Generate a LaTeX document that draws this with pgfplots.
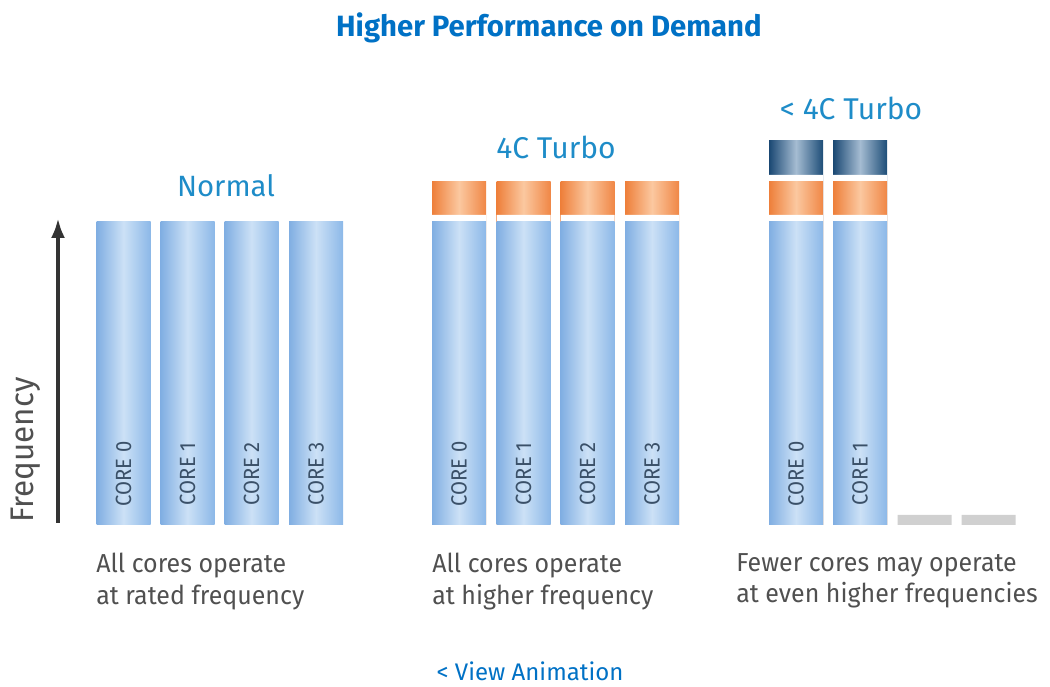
\documentclass[border=0pt]{standalone}
\usepackage{pgfplots}
\pgfplotsset{compat=1.18}
\usetikzlibrary{arrows.meta}
\usepackage{fontspec}
\setmainfont{Fira Sans}
\newfontfamily\bodyfont[FakeStretch=0.96]{Fira Sans}
\newfontfamily\corefont[FakeStretch=0.92]{Fira Sans}
\definecolor{titleblue}{RGB}{0,113,197}
\definecolor{labblue}{RGB}{30,140,200}
\definecolor{barL}{RGB}{128,174,226}
\definecolor{barM}{RGB}{204,225,246}
\definecolor{barR}{RGB}{140,184,232}
\definecolor{orL}{RGB}{238,127,58}
\definecolor{orM}{RGB}{251,200,160}
\definecolor{orR}{RGB}{240,135,70}
\definecolor{dkL}{RGB}{26,72,115}
\definecolor{dkM}{RGB}{165,188,210}
\definecolor{dkR}{RGB}{30,78,120}
\definecolor{grayb}{RGB}{208,208,208}
\definecolor{txtgray}{RGB}{80,80,80}
\definecolor{coretxt}{RGB}{58,80,104}
\pgfplotsset{
  bb/.style={ybar, bar width=54, bar shift=0pt, draw=none},
  blueb/.style={bb, left color=barL, right color=barR, middle color=barM},
  orb/.style={bb, left color=orL, right color=orR, middle color=orM},
  dkb/.style={bb, left color=dkL, right color=dkR, middle color=dkM},
}
\tikzset{corelab/.style={font=\corefont\fontsize{16.5}{18}\selectfont, text=coretxt, rotate=90}}
\begin{document}
\begin{tikzpicture}
\begin{axis}[
  x=0.75pt, y=0.75pt,
  xmin=0, xmax=1050, ymin=-161, ymax=525,
  hide axis, clip=false,
]
% turbo level 2 (dark), drawn first, gaps in white over it
\addplot[dkb] coordinates {(796,384)};
\addplot[dkb] coordinates {(860,384)};
\addplot[bb, fill=white] coordinates {(796,350) (860,350)};
% turbo level 1 (orange)
\addplot[orb] coordinates {(459,343)};
\addplot[orb] coordinates {(523.5,343)};
\addplot[orb] coordinates {(587.5,343)};
\addplot[orb] coordinates {(652,343)};
\addplot[orb] coordinates {(796,343)};
\addplot[orb] coordinates {(860,343)};
\addplot[bb, fill=white] coordinates {(459,310) (523.5,310) (587.5,310) (652,310) (796,310) (860,310)};
% rated frequency (blue)
\addplot[blueb] coordinates {(123.5,303)};
\addplot[blueb] coordinates {(187.5,303)};
\addplot[blueb] coordinates {(251.5,303)};
\addplot[blueb] coordinates {(316,303)};
\addplot[blueb] coordinates {(459,303)};
\addplot[blueb] coordinates {(523.5,303)};
\addplot[blueb] coordinates {(587.5,303)};
\addplot[blueb] coordinates {(652,303)};
\addplot[blueb] coordinates {(796,303)};
\addplot[blueb] coordinates {(860,303)};
% idle cores (gray)
\addplot[bb, fill=grayb] coordinates {(924.5,10) (988.5,10)};
\coordinate (ll) at (axis cs:0,-161);
\coordinate (ur) at (axis cs:1050,525);
% titles
\node[font=\bfseries\fontsize{22}{26}\selectfont, text=titleblue] at (axis cs:549,497) {Higher Performance on Demand};
\node[font=\fontsize{22}{26}\selectfont, text=labblue] at (axis cs:226,339) {Normal};
\node[font=\fontsize{22.5}{26}\selectfont, text=labblue] at (axis cs:556,378) {4C Turbo};
\node[font=\fontsize{22.5}{26}\selectfont, text=labblue] at (axis cs:851,417) {< 4C Turbo};
% axis arrow
\draw[-{Latex[length=15pt,width=10.5pt]}, line width=3pt, black!80] (axis cs:58,2) -- (axis cs:58,307);
\node[font=\bodyfont\fontsize{24.5}{28}\selectfont, text=txtgray, rotate=90] at (axis cs:26,75) {Frequency};
% core labels
\node[corelab] at (axis cs:123.5,51) {CORE 0};
\node[corelab] at (axis cs:187.5,51) {CORE 1};
\node[corelab] at (axis cs:251.5,51) {CORE 2};
\node[corelab] at (axis cs:316,51) {CORE 3};
\node[corelab] at (axis cs:459,51) {CORE 0};
\node[corelab] at (axis cs:523.5,51) {CORE 1};
\node[corelab] at (axis cs:587.5,51) {CORE 2};
\node[corelab] at (axis cs:652,51) {CORE 3};
\node[corelab] at (axis cs:796,51) {CORE 0};
\node[corelab] at (axis cs:860,51) {CORE 1};
% captions
\node[font=\bodyfont\fontsize{19.5}{23.5}\selectfont, text=txtgray, align=left, anchor=north west, inner sep=0pt] at (axis cs:96,-28) {All cores operate\\at rated frequency};
\node[font=\bodyfont\fontsize{19.5}{23.5}\selectfont, text=txtgray, align=left, anchor=north west, inner sep=0pt] at (axis cs:432,-28) {All cores operate\\at higher frequency};
\node[font=\bodyfont\fontsize{19.5}{23.5}\selectfont, text=txtgray, align=left, anchor=north west, inner sep=0pt] at (axis cs:736,-28) {Fewer cores may operate\\at even higher frequencies};
\node[font=\fontsize{18}{20}\selectfont, text=titleblue, inner sep=0.5pt] at (axis cs:530,-146) {< View Animation};
\end{axis}
\pgfresetboundingbox
\path[use as bounding box] (ll) rectangle (ur);
\end{tikzpicture}
\end{document}
